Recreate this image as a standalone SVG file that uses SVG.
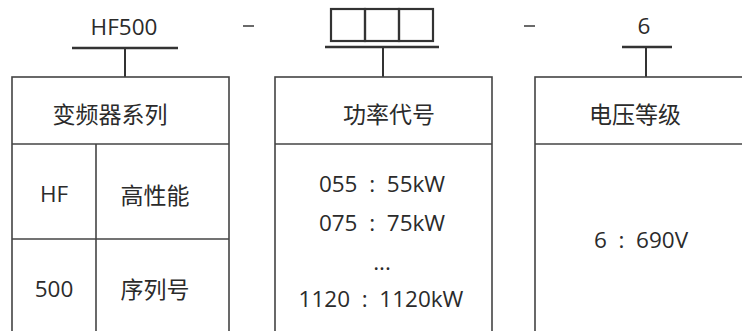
<svg xmlns="http://www.w3.org/2000/svg" width="742" height="331" viewBox="0 0 742 331">
<style>
.t{font-family:"Open Sans","Noto Sans CJK SC",sans-serif;fill:#2b2b2b;text-anchor:middle}
.c{font-size:23px}
.n{font-size:22.5px}
.box{fill:none;stroke:#444;stroke-width:1.6}
.sq{fill:none;stroke:#333;stroke-width:2.2}
.bar{stroke:#333;stroke-width:2.6}
.stem{stroke:#333;stroke-width:2}
.ln{stroke:#444;stroke-width:1.6}
</style>
<rect width="742" height="331" fill="#fff"/>
<g id="connectors">
<line class="bar" x1="72" y1="48" x2="178" y2="48"/>
<line class="stem" x1="125" y1="48" x2="125" y2="77"/>
<line class="bar" x1="325" y1="47" x2="439" y2="47"/>
<line class="stem" x1="383" y1="47" x2="383" y2="77"/>
<line class="bar" x1="622" y1="47" x2="672" y2="47"/>
<line class="stem" x1="646" y1="47" x2="646" y2="77"/>
<line class="ln" x1="243" y1="26" x2="254" y2="26"/>
<line class="ln" x1="524" y1="26" x2="535" y2="26"/>
</g>
<g id="code1">
<text class="t n" x="124" y="35">HF500</text>
</g>
<g id="code2">
<rect class="sq" x="331" y="9" width="34" height="32"/>
<rect class="sq" x="365" y="9" width="34" height="32"/>
<rect class="sq" x="399" y="9" width="34" height="32"/>
</g>
<g id="code3">
<text class="t n" x="644" y="34">6</text>
</g>
<g id="series">
<rect class="box" x="12" y="77" width="217" height="270"/>
<line class="ln" x1="12" y1="144" x2="229" y2="144"/>
<line class="ln" x1="96" y1="144" x2="96" y2="331"/>
<line class="ln" x1="12" y1="239" x2="229" y2="239"/>
<text class="t c" x="110" y="123">变频器系列</text>
<text class="t n" x="54" y="202">HF</text>
<text class="t c" x="155" y="204">高性能</text>
<text class="t n" x="54" y="297">500</text>
<text class="t c" x="155" y="298">序列号</text>
</g>
<g id="power">
<rect class="box" x="275" y="77" width="217" height="270"/>
<line class="ln" x1="275" y1="144" x2="492" y2="144"/>
<text class="t c" x="389" y="123">功率代号</text>
<text class="t n" x="382" y="192" xml:space="preserve">055  :  55kW</text>
<text class="t n" x="382" y="231" xml:space="preserve">075  :  75kW</text>
<text class="t n" x="382" y="270">...</text>
<text class="t n" x="381" y="307" xml:space="preserve">1120  :  1120kW</text>
</g>
<g id="voltage">
<rect class="box" x="535" y="77" width="220" height="270"/>
<line class="ln" x1="535" y1="144" x2="742" y2="144"/>
<text class="t c" x="635" y="123">电压等级</text>
<text class="t n" x="641" y="248" xml:space="preserve">6  :  690V</text>
</g>
</svg>
